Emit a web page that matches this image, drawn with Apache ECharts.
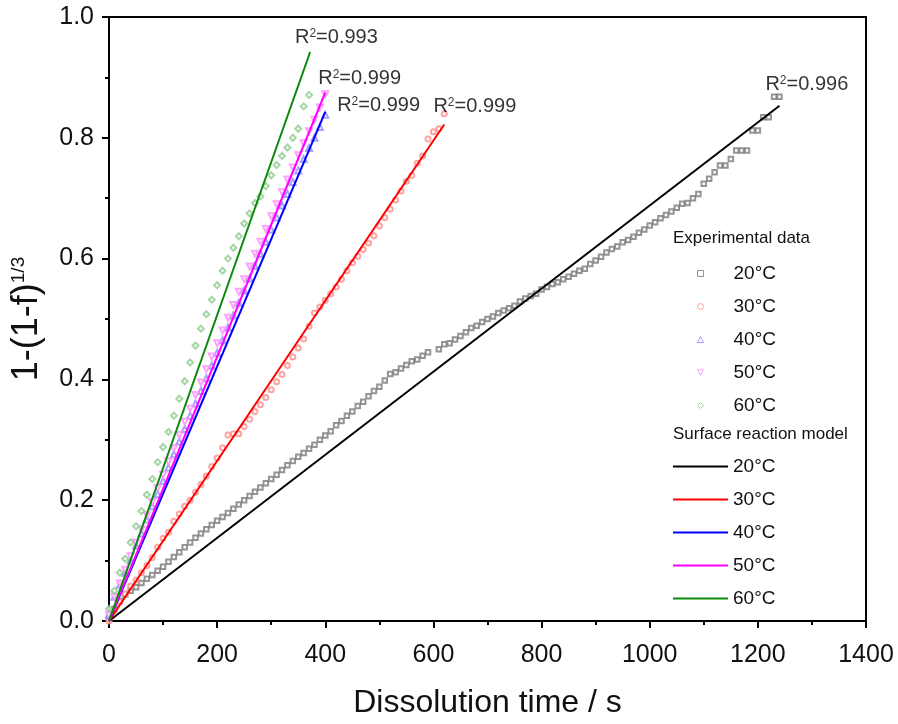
<!DOCTYPE html>
<html><head><meta charset="utf-8">
<script src="https://cdn.jsdelivr.net/npm/echarts@6/dist/echarts.min.js"></script>
<style>html,body{margin:0;padding:0;background:#fff}#c{width:898px;height:724px}</style>
</head><body><div id="c"></div>
<script>
// ---------------- data ----------------
const sampleTimes = [0,10,20,30,40,50,60,70,80,90,100,110,120,130,140,150,160,170,180,190,
  200,210,220,230,240,250,260,270,280,290,300,310,320,330,340,350,360,370,380,390,
  400,410,420,430,440,450,460,470,480,490,500,510,520,530,540,550,560,570,580,590,
  600,610,620,630,640,650,660,670,680,690,700,710,720,730,740,750,760,770,780,790,
  800,810,820,830,840,850,860,870,880,890,900,910,920,930,940,950,960,970,980,990,
  1000,1010,1020,1030,1040,1050,1060,1070,1080,1090,1100,1110,1120,1130,1140,1150,1160,1170,1180,1190,
  1200,1210,1220,1230,1240];

const temps = ['20°C','30°C','40°C','50°C','60°C'];

const exp20 = [0.005,0.02,0.033,0.044,0.05,0.056,0.063,0.07,0.076,0.083,
  0.09,0.098,0.106,0.114,0.122,0.13,0.138,0.145,0.152,0.159,
  0.166,0.172,0.179,0.186,0.193,0.2,0.207,0.214,0.221,0.228,
  0.235,0.242,0.25,0.258,0.265,0.272,0.278,0.285,0.292,0.30,
  0.307,0.314,0.324,0.331,0.34,0.347,0.356,0.363,0.372,0.381,
  0.388,0.398,0.409,0.412,0.418,0.424,0.43,0.433,0.439,0.445,
  null,0.45,0.458,0.46,0.466,0.472,0.478,0.485,0.489,0.495,
  0.5,0.504,0.51,0.514,0.518,0.522,0.529,0.534,0.538,0.542,
  0.549,0.553,0.558,0.561,0.566,0.57,0.575,0.58,0.583,0.591,
  0.597,0.603,0.61,0.616,0.62,0.627,0.631,0.636,0.643,0.648,
  0.655,0.66,0.667,0.672,0.678,0.684,0.691,0.692,0.70,0.707,
  0.724,0.732,0.743,0.754,0.754,0.765,0.779,0.779,0.779,0.812,
  0.812,0.834,0.834,0.868,0.868];

const exp30 = [0.0,0.018,0.032,0.045,0.058,0.068,0.08,0.092,0.105,0.122,
  0.137,0.147,0.165,0.177,0.19,0.2,0.213,0.226,0.24,0.256,
  0.27,0.287,0.308,0.31,0.31,0.322,0.334,0.347,0.358,0.37,
  0.383,0.396,0.408,0.423,0.437,0.452,0.467,0.488,0.51,0.52,
  0.531,0.542,0.553,0.566,0.58,0.593,0.604,0.615,0.626,0.638,
  0.654,0.668,0.682,0.697,0.712,0.728,0.738,0.758,0.77,0.798,
  0.81,0.815,0.84];

const exp40 = [0.01,0.04,0.06,0.08,0.10,0.125,0.145,0.168,0.19,0.21,
  0.232,0.254,0.276,0.297,0.318,0.34,0.36,0.381,0.402,0.423,
  0.444,0.465,0.486,0.506,0.527,0.547,0.567,0.588,0.608,0.628,
  0.648,0.668,0.688,0.707,0.727,0.746,0.765,0.783,0.80,0.818,
  0.838];

const exp50 = [0.01,0.04,0.062,0.085,0.107,0.13,0.152,0.175,0.197,0.22,
  0.242,0.264,0.286,0.308,0.33,0.352,0.374,0.395,0.417,0.438,
  0.46,0.481,0.502,0.523,0.545,0.566,0.587,0.608,0.628,0.649,
  0.67,0.69,0.71,0.731,0.751,0.771,0.791,0.811,0.83,0.85,
  0.872];

const exp60 = [0.02,0.05,0.08,0.103,0.13,0.157,0.182,0.209,0.235,0.263,
  0.288,0.313,0.34,0.368,0.397,0.428,0.456,0.484,0.508,0.532,
  0.556,0.58,0.60,0.618,0.637,0.658,0.675,0.692,0.703,0.72,
  0.738,0.755,0.77,0.784,0.80,0.815,0.852,0.871];

const fitEndTime = [1240, 620, 400, 400, 372];
const fitEndValue = [0.853, 0.822, 0.843, 0.875, 0.942];

const r2Values = ['0.996','0.999','0.999','0.999','0.993'];
const r2LabelX = [1214, 600, 422, 387, 344];
const r2LabelY = [0.888, 0.852, 0.853, 0.898, 0.966];

// ---------------- styling ----------------
const FONT = "'Liberation Sans', Arial, sans-serif";
const expSets = [exp20, exp30, exp40, exp50, exp60];
const expColors = ['#7a7a7a', '#ff8c8c', '#8c8cff', '#ff8cff', '#8fcc8f'];
const expSymbols = ['emptyRect', 'emptyCircle', 'emptyTriangle', 'emptyTriangle', 'emptyDiamond'];
const legendIcons = ['rect', 'circle', 'triangle', 'path://M0,0 L10,0 L5,9 Z', 'diamond'];
const expRotate = [0, 0, 0, 180, 0];
const expSizes = [4.5, 5, 6, 6, 6];
const fitColors = ['#000000', '#ff0000', '#0000ff', '#ff00ff', '#0a8a0a'];

const series = [];
const expLegend = [], fitLegend = [];
expSets.forEach((vals, k) => {
  const name = 'Experimental data ' + temps[k];
  expLegend.push({ name, icon: legendIcons[k],
    itemStyle: { color: '#fff', borderColor: expColors[k], borderWidth: 1 } });
  const data = [];
  vals.forEach((v, i) => { if (v !== null) data.push([sampleTimes[i], v]); });
  series.push({
    type: 'scatter', name, data,
    symbol: expSymbols[k], symbolRotate: expRotate[k], symbolSize: expSizes[k],
    itemStyle: { color: expColors[k], borderWidth: 1 },
    z: 2, silent: true
  });
});
fitEndTime.forEach((t, k) => {
  const name = 'Surface reaction model ' + temps[k];
  fitLegend.push({ name });
  series.push({
    type: 'line', name, data: [[0, 0], [t, fitEndValue[k]]],
    symbol: 'none', lineStyle: { color: fitColors[k], width: 2 },
    itemStyle: { color: fitColors[k] },
    z: 3, silent: true
  });
});
series.push({
  type: 'scatter', name: 'r2', symbolSize: 0, silent: true, z: 5,
  data: r2LabelX.map((x, i) => ({ value: [x, r2LabelY[i]], label: { formatter: '{r|R}{s|2}{r|=' + r2Values[i] + '}' } })),
  label: { show: true, position: 'right', distance: 0,
    rich: {
      r: { fontSize: 20, fontFamily: FONT, color: '#000' },
      s: { fontSize: 12, fontFamily: FONT, color: '#000', verticalAlign: 'top' }
    } }
});

const legendText = { fontSize: 19, fontFamily: FONT, color: '#111', lineHeight: 33 };
const fmt = name => name.replace('Experimental data ', '').replace('Surface reaction model ', '');

const option = {
  backgroundColor: '#fff',
  animation: false,
  grid: { left: 109, right: 32, top: 17, bottom: 96, show: true, borderColor: '#000', borderWidth: 2, backgroundColor: 'transparent' },
  xAxis: {
    type: 'value', min: 0, max: 1400, interval: 200,
    name: 'Dissolution time / s', nameLocation: 'middle', nameGap: 66,
    nameTextStyle: { fontSize: 32, fontFamily: FONT, color: '#111' },
    axisLine: { lineStyle: { color: '#000', width: 2 } },
    axisTick: { show: true, length: 7, lineStyle: { color: '#000', width: 2 } },
    minorTick: { show: true, splitNumber: 2, length: 4, lineStyle: { color: '#000', width: 2 } },
    axisLabel: { fontSize: 25, fontFamily: FONT, color: '#111', margin: 22, formatter: v => String(v) },
    splitLine: { show: false }
  },
  yAxis: {
    type: 'value', min: 0, max: 1.0, interval: 0.2,
    name: '{a|1-(1-f)}{b|1/3}', nameLocation: 'middle', nameGap: 64,
    nameTextStyle: { rich: {
      a: { fontSize: 36, fontFamily: FONT, color: '#111' },
      b: { fontSize: 19, fontFamily: FONT, color: '#111', verticalAlign: 'top' }
    } },
    axisLine: { lineStyle: { color: '#000', width: 2 } },
    axisTick: { show: true, length: 7, lineStyle: { color: '#000', width: 2 } },
    minorTick: { show: true, splitNumber: 2, length: 4, lineStyle: { color: '#000', width: 2 } },
    axisLabel: { fontSize: 25, fontFamily: FONT, color: '#111', margin: 15, formatter: v => v.toFixed(1) },
    splitLine: { show: false }
  },
  legend: [
    { data: expLegend, orient: 'vertical', left: 697, top: 257, padding: 0, itemWidth: 6, itemHeight: 6, itemGap: 0,
      selectedMode: false, formatter: fmt, textStyle: Object.assign({ padding: [0, 0, 0, 25] }, legendText) },
    { data: fitLegend, orient: 'vertical', left: 673, top: 450, padding: 0, itemWidth: 55, itemHeight: 2, itemGap: 0,
      icon: 'rect', selectedMode: false, formatter: fmt, textStyle: legendText }
  ],
  graphic: [
    { type: 'text', left: 673, top: 230, style: { text: 'Experimental data', fontSize: 17, fontFamily: FONT, fill: '#111' } },
    { type: 'text', left: 673, top: 426, style: { text: 'Surface reaction model', fontSize: 17, fontFamily: FONT, fill: '#111' } }
  ],
  series
};
const chart = echarts.init(document.getElementById('c'), null, { renderer: 'canvas' });
chart.setOption(option);
</script>
</body></html>
